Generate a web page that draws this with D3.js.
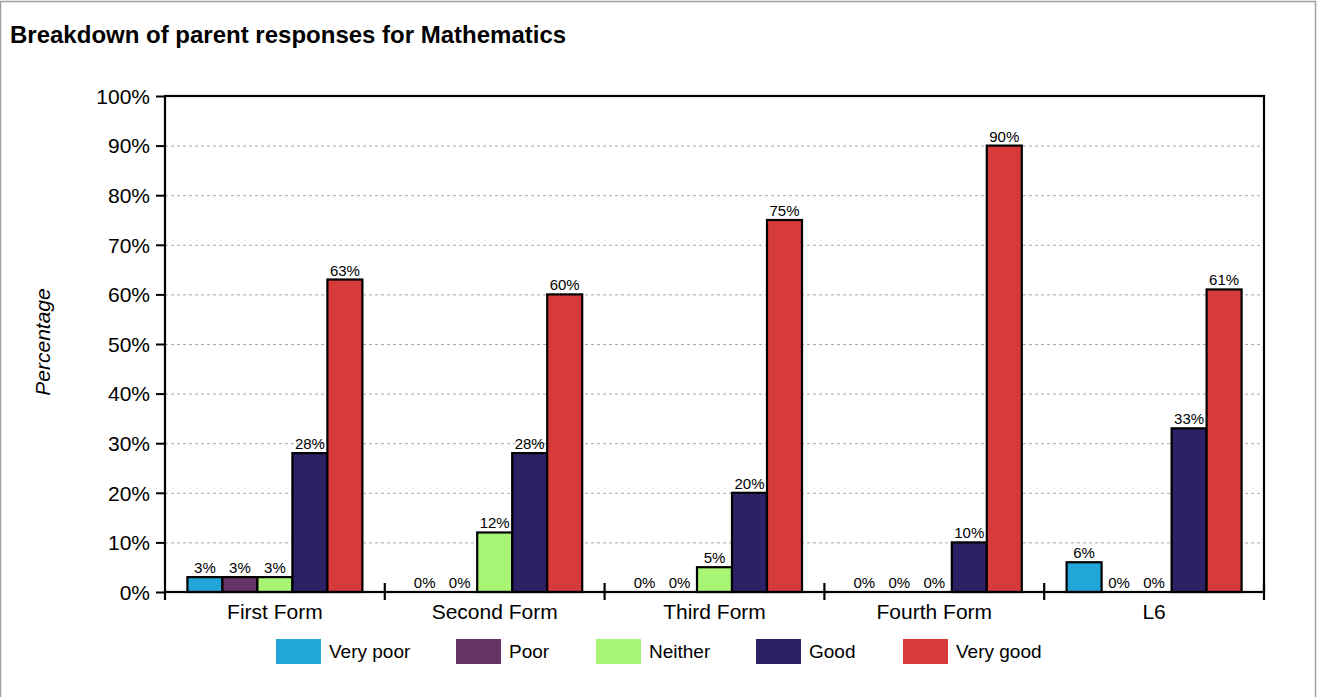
<!DOCTYPE html>
<html>
<head>
<meta charset="utf-8">
<script src="https://cdn.jsdelivr.net/npm/d3@7/dist/d3.min.js"></script>
<style>
  html, body { margin: 0; padding: 0; background: #fff; }
  svg { display: block; font-family: "Liberation Sans", Arial, sans-serif; }
</style>
</head>
<body>
<svg id="chart" width="1317" height="697"></svg>
<script>
// Survey breakdown: percentage of parents giving each rating, per year group
const categories = ["First Form", "Second Form", "Third Form", "Fourth Form", "L6"];
const seriesNames = ["Very poor", "Poor", "Neither", "Good", "Very good"];
const seriesColors = ["#22a6da", "#663366", "#a8f474", "#2b2164", "#d63a3b"];
const veryPoor = [3, 0, 0, 0, 6];
const poor     = [3, 0, 0, 0, 0];
const neither  = [3, 12, 5, 0, 0];
const good     = [28, 28, 20, 10, 33];
const veryGood = [63, 60, 75, 90, 61];
const yTicks = [0, 10, 20, 30, 40, 50, 60, 70, 80, 90, 100];

const seriesValues = [veryPoor, poor, neither, good, veryGood];

const svg = d3.select("#chart");
const W = 1317, H = 697;
const plot = { left: 165, right: 1264, top: 96, bottom: 592 };

// Outer frame (no bottom edge)
svg.append("path")
  .attr("d", `M0.5,${H} V1.5 H1315.5 V${H}`)
  .attr("fill", "none").attr("stroke", "#a0a0a0").attr("stroke-width", 1.5);

// Title
svg.append("text")
  .attr("x", 10).attr("y", 43)
  .attr("font-size", 24).attr("font-weight", "bold").attr("fill", "#000")
  .text("Breakdown of parent responses for Mathematics");

const x0 = d3.scaleBand().domain(categories).range([plot.left, plot.right]).paddingInner(0).paddingOuter(0);
const x1 = d3.scaleBand().domain(seriesNames).range([0, x0.bandwidth()]).paddingOuter(0.64).paddingInner(0);
const y = d3.scaleLinear().domain([0, 100]).range([plot.bottom, plot.top]);

// Dashed gridlines
svg.append("g").selectAll("line")
  .data(yTicks.filter(t => t > 0 && t < 100))
  .join("line")
  .attr("x1", plot.left).attr("x2", plot.right)
  .attr("y1", d => y(d) + 0.5).attr("y2", d => y(d) + 0.5)
  .attr("stroke", "#a8a8a8").attr("stroke-width", 1).attr("stroke-dasharray", "3,3");

// Bars
const groups = svg.append("g").selectAll("g")
  .data(categories)
  .join("g")
  .attr("transform", d => `translate(${x0(d)},0)`);

groups.each(function(cat, ci) {
  const g = d3.select(this);
  seriesNames.forEach((s, si) => {
    const v = seriesValues[si][ci];
    const bx = x1(s);
    if (v > 0) {
      g.append("rect")
        .attr("x", bx).attr("y", y(v))
        .attr("width", x1.bandwidth()).attr("height", y(0) - y(v))
        .attr("fill", seriesColors[si])
        .attr("stroke", "#000").attr("stroke-width", 2.2);
    }
    g.append("text")
      .attr("x", bx + x1.bandwidth() / 2)
      .attr("y", y(v) - 4)
      .attr("text-anchor", "middle")
      .attr("font-size", 15).attr("fill", "#000")
      .text(v + "%");
  });
});

// Y axis
const yAxis = d3.axisLeft(y).tickValues(yTicks).tickFormat(d => d + "%").tickSize(9).tickPadding(6);
const gy = svg.append("g").attr("transform", `translate(${plot.left},0)`).call(yAxis);
gy.select(".domain").remove();
gy.selectAll(".tick line").attr("stroke", "#000").attr("stroke-width", 2);
gy.selectAll(".tick text").attr("font-size", 21).attr("fill", "#000").attr("dy", "0.35em")
  .attr("font-family", "'Liberation Sans', Arial, sans-serif");

// Plot frame: left, top, right, bottom
svg.append("rect")
  .attr("x", plot.left).attr("y", plot.top)
  .attr("width", plot.right - plot.left).attr("height", plot.bottom - plot.top)
  .attr("fill", "none").attr("stroke", "#000").attr("stroke-width", 2.2);

// Category boundary ticks crossing the baseline
const bounds = categories.map(c => x0(c)).concat([plot.right]);
svg.append("g").selectAll("line")
  .data(bounds)
  .join("line")
  .attr("x1", d => d).attr("x2", d => d)
  .attr("y1", (d, i) => (i === 0 ? plot.bottom : plot.bottom - 9))
  .attr("y2", plot.bottom + 8)
  .attr("stroke", "#000").attr("stroke-width", 2.2);

// Category labels
svg.append("g").selectAll("text")
  .data(categories)
  .join("text")
  .attr("x", d => x0(d) + x0.bandwidth() / 2)
  .attr("y", 619)
  .attr("text-anchor", "middle")
  .attr("font-size", 21).attr("fill", "#000")
  .text(d => d);

// Y axis title
svg.append("text")
  .attr("transform", "translate(50,342) rotate(-90)")
  .attr("text-anchor", "middle")
  .attr("font-size", 21).attr("font-style", "italic").attr("fill", "#000")
  .text("Percentage");

// Legend
const legendX = [276, 456, 596, 756, 903];
const legend = svg.append("g").selectAll("g")
  .data(seriesNames)
  .join("g")
  .attr("transform", (d, i) => `translate(${legendX[i]},639)`);
legend.append("rect")
  .attr("width", 45).attr("height", 25)
  .attr("fill", (d, i) => seriesColors[i]);
legend.append("text")
  .attr("x", 53).attr("y", 19)
  .attr("font-size", 19).attr("fill", "#000")
  .text(d => d);
</script>
</body>
</html>
